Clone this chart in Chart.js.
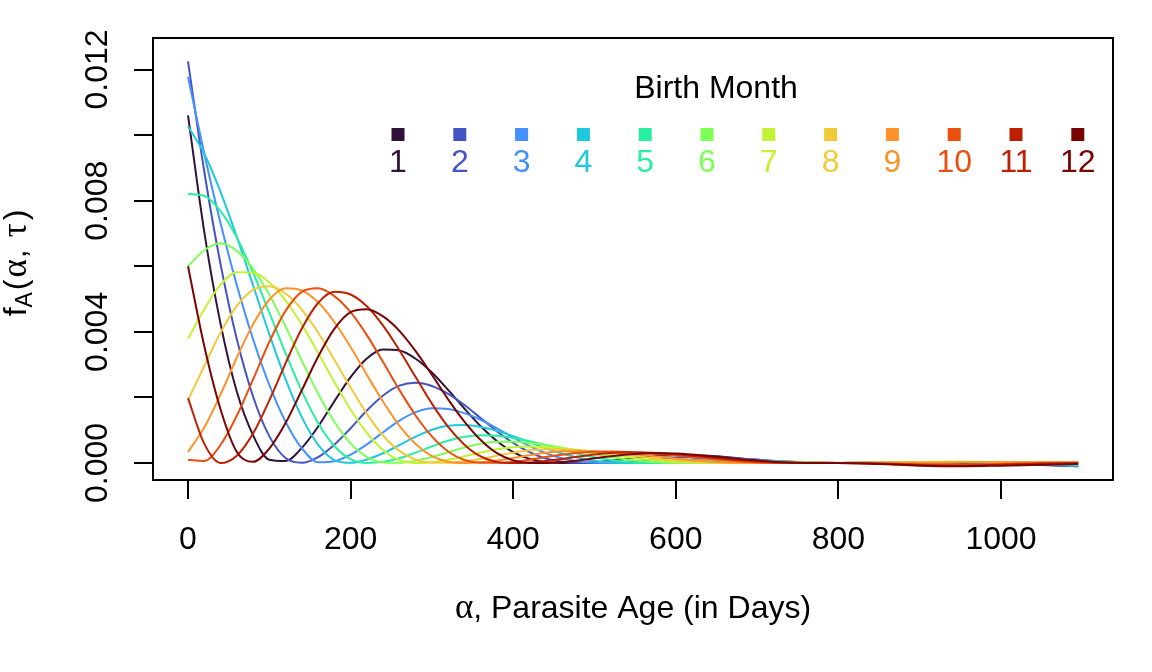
<!DOCTYPE html>
<html>
<head>
<meta charset="utf-8">
<title>Parasite age density by birth month</title>
<script src="https://cdn.jsdelivr.net/npm/chart.js@4.4.1/dist/chart.umd.min.js"></script>
<style>
  html, body { margin: 0; padding: 0; background: #fff; }
  #ageChart { display: block; }
</style>
</head>
<body>
<canvas id="ageChart" width="1152" height="672"></canvas>
<script>
var ageDays = [0, 20, 40, 60, 80, 100, 120, 140, 160, 180, 200, 220, 240, 260, 280, 300,
    320, 340, 360, 380, 400, 420, 440, 460, 480, 500, 520, 540, 560, 580, 600,
    640, 680, 720, 760, 800, 850, 900, 950, 1000, 1050, 1095];

// f_A(alpha, tau), one series per birth month
var month1 = [0.0106, 0.00705, 0.00425, 0.00218, 0.00085, 0.0001, 0.00006, 0.00046, 0.00111, 0.00188, 0.00262,
    0.00319, 0.00346, 0.00343, 0.00318, 0.00276, 0.00223, 0.00166, 0.00112, 0.00067, 0.00033, 0.000125, 0.000027,
    0, 0.000002, 0.000025, 0.00007, 0.000127, 0.000185, 0.000225, 0.00024, 0.00022, 0.00014, 0.00006, 0.00002, 0,
    0.00001, 0.00002, 0.00001, -0.00002, -0.00006, -0.0001];
var month2 = [0.01225, 0.00889, 0.00607, 0.00378, 0.00203, 0.00082, 0.00015, 0.000007, 0.00018, 0.00056, 0.00106,
    0.0016, 0.00206, 0.00236, 0.00245, 0.00235, 0.00211, 0.00177, 0.00137, 0.00097, 0.00061, 0.00033, 0.00014,
    0.00004, 0.000005, 0, 0.00001, 0.000038, 0.000078, 0.00012, 0.00016, 0.0002, 0.00013, 0.00005, 0.00001, 0,
    0.00001, 0.00003, 0.00002, -0.00001, -0.00005, -0.0001];
var month3 = [0.01178, 0.00944, 0.00732, 0.00543, 0.00378, 0.00238, 0.00126, 0.00045, 0.00002, 0.000053, 0.000256,
    0.00057, 0.00094, 0.00129, 0.00155, 0.00167, 0.00165, 0.00152, 0.00132, 0.00106, 0.00078, 0.00052, 0.0003,
    0.000145, 0.00005, 0.00001, 0, 0.000002, 0.000017, 0.000044, 0.000076, 0.000134, 0.00013, 0.00007, 0.00002, 0,
    0.00001, 0.00003, 0.00003, 0, -0.00004, -0.00009];
var month4 = [0.01027, 0.00943, 0.00827, 0.0069, 0.00542, 0.00393, 0.00256, 0.0014, 0.00056, 0.00009, 0.000007,
    0.000105, 0.000297, 0.000547, 0.000804, 0.001015, 0.00114, 0.001157, 0.0011, 0.00098, 0.00082, 0.00064, 0.00045,
    0.00029, 0.00016, 0.00007, 0.00002, 0.000002, 0, 0.000003, 0.00002, 0.00005, 0.00007, 0.00005, 0.00002, 0,
    0.00001, 0.00003, 0.00003, 0.00001, -0.00003, -0.00008];
var month5 = [0.0082, 0.00815, 0.00768, 0.00688, 0.00581, 0.00459, 0.00335, 0.00219, 0.00122, 0.00052, 0.00012,
    0, 0.000035, 0.000147, 0.000316, 0.000506, 0.00068, 0.000803, 0.00085, 0.00083, 0.000766, 0.000667, 0.000544,
    0.000413, 0.000285, 0.000175, 0.00009, 0.000034, 0.000008, 0, 0, 0.00002, 0.00004, 0.00004, 0.00002, 0,
    0.00001, 0.00003, 0.00003, 0.00002, -0.00001, -0.00005];
var month6 = [0.006, 0.00649, 0.0067, 0.00647, 0.00593, 0.00513, 0.00416, 0.00312, 0.00212, 0.00126, 0.0006,
    0.00019, 0.000016, 0.000007, 0.000069, 0.000184, 0.000329, 0.000472, 0.000585, 0.000645, 0.000645, 0.00061,
    0.000548, 0.000466, 0.000371, 0.000273, 0.000183, 0.000107, 0.000051, 0.000017, 0.000002, 0.00001, 0.00002,
    0.00002, 0.00001, 0, 0.00001, 0.00003, 0.00004, 0.00003, 0.00001, -0.00002];
var month7 = [0.00379, 0.00469, 0.00544, 0.00582, 0.00581, 0.00551, 0.00496, 0.00422, 0.00336, 0.00247, 0.00163,
    0.00092, 0.00039, 0.000087, 0, 0.000026, 0.0001, 0.000204, 0.000318, 0.000418, 0.000483, 0.0005, 0.000484,
    0.000448, 0.000394, 0.000328, 0.000256, 0.000184, 0.000119, 0.000066, 0.000029, 0, 0.00001, 0.00002, 0.00001, 0,
    0.00001, 0.00003, 0.00004, 0.00003, 0.00001, 0];
var month8 = [0.00192, 0.00296, 0.00397, 0.00479, 0.00528, 0.00539, 0.00517, 0.00468, 0.00398, 0.00315, 0.0023,
    0.0015, 0.00084, 0.00037, 0.0001, 0.000006, 0.000006, 0.000049, 0.000127, 0.000222, 0.000315, 0.000386, 0.000419,
    0.000415, 0.000392, 0.000353, 0.000302, 0.000244, 0.000183, 0.000125, 0.000076, 0.000013, 0, 0.00001, 0.00001, 0,
    0.00001, 0.00002, 0.00003, 0.00003, 0.00002, 0.00001];
var month9 = [0.00034, 0.00108, 0.00209, 0.00321, 0.00423, 0.00498, 0.00533, 0.00526, 0.0049, 0.0043, 0.00354,
    0.00269, 0.00187, 0.00114, 0.00058, 0.00021, 0.000036, 0, 0.00002, 0.000075, 0.000153, 0.000238, 0.000312,
    0.000359, 0.00037, 0.000357, 0.00033, 0.00029, 0.000241, 0.000188, 0.000135, 0.000049, 0.000005, 0, 0.00001, 0,
    0.00001, 0.00001, 0.00002, 0.00002, 0.00002, 0.00002];
var month10 = [0.0001, 0.000063, 0.00055, 0.00144, 0.00255, 0.00369, 0.00464, 0.00522, 0.00533, 0.00509, 0.0046,
    0.0039, 0.00308, 0.00223, 0.00145, 0.00081, 0.00035, 0.00009, 0.000005, 0.000005, 0.00004, 0.0001, 0.00018,
    0.00025, 0.00031, 0.000345, 0.000348, 0.000335, 0.00031, 0.00027, 0.00023, 0.00013, 0.000048, 0.000003, 0, 0,
    -0.00001, -0.00004, -0.00005, -0.00003, 0, 0.00001];
var month11 = [0.00198, 0.00059, 0, 0.000225, 0.0009, 0.00191, 0.00304, 0.0041, 0.00488, 0.00522, 0.00514,
    0.00478, 0.00419, 0.00344, 0.00262, 0.00181, 0.0011, 0.00056, 0.0002, 0.000034, 0, 0.000016, 0.00006,
    0.000124, 0.000196, 0.000262, 0.000309, 0.00033, 0.000324, 0.000304, 0.00027, 0.000178, 0.000084, 0.00002, 0, 0,
    -0.00002, -0.00006, -0.00008, -0.00005, -0.00002, 0];
var month12 = [0.006, 0.00357, 0.00164, 0.00034, 0.000037, 0.00044, 0.00122, 0.00222, 0.00324, 0.00409, 0.0046,
    0.00469, 0.00447, 0.00403, 0.00341, 0.00269, 0.00194, 0.00126, 0.0007, 0.0003, 0.00008, 0.000004, 0.000004,
    0.000032, 0.00008, 0.000142, 0.000205, 0.000258, 0.000291, 0.0003, 0.000291, 0.000215, 0.000118, 0.00004,
    0.000004, 0, -0.00003, -0.00008, -0.0001, -0.00008, -0.00005, -0.00003];

var monthSeries = [month1, month2, month3, month4, month5, month6, month7, month8, month9, month10, month11, month12];
var monthLabels = ['1', '2', '3', '4', '5', '6', '7', '8', '9', '10', '11', '12'];
var monthColors = ['#30123B', '#4454C4', '#4490FE', '#1FC8DE', '#29EFA2', '#7DFF56',
    '#C1F334', '#F1CA3A', '#FE922A', '#EA4F0D', '#BE2102', '#7A0403'];

var xTicks = [0, 200, 400, 600, 800, 1000];
var yTicks = [0, 0.002, 0.004, 0.006, 0.008, 0.010, 0.012];
var yLabelValues = [0, 0.004, 0.008, 0.012];
var yLabelText = ['0.000', '0.004', '0.008', '0.012'];

var SANS = "'Liberation Sans', Arial, Helvetica, sans-serif";
var SERIF = "'Liberation Serif', 'DejaVu Serif', serif";

// draws a run of text pieces (mixed fonts) centred on x, baseline y
function drawPieces(ctx, pieces, x, y) {
    var total = 0;
    pieces.forEach(function (p) {
        ctx.font = p.font;
        p.w = ctx.measureText(p.text).width + (p.gap || 0);
        total += p.w;
    });
    var cx = x - total / 2;
    ctx.textAlign = 'left';
    ctx.textBaseline = 'alphabetic';
    pieces.forEach(function (p) {
        ctx.font = p.font;
        ctx.fillText(p.text, cx, y + (p.dy || 0));
        cx += p.w;
    });
}

var baseGraphics = {
    id: 'baseGraphics',
    afterDraw: function (chart) {
        var ctx = chart.ctx;
        var area = chart.chartArea;
        var xs = chart.scales.x;
        var ys = chart.scales.y;
        ctx.save();
        ctx.fillStyle = '#000';
        ctx.strokeStyle = '#000';

        // plot box
        ctx.lineWidth = 2;
        ctx.strokeRect(area.left, area.top, area.right - area.left, area.bottom - area.top);

        // x tick labels
        ctx.font = '32px ' + SANS;
        ctx.textAlign = 'center';
        ctx.textBaseline = 'alphabetic';
        xTicks.forEach(function (v) {
            ctx.fillText(String(v), xs.getPixelForValue(v), 549);
        });

        // y tick labels, rotated like R's las = 0
        yLabelValues.forEach(function (v, i) {
            ctx.save();
            ctx.translate(107, ys.getPixelForValue(v));
            ctx.rotate(-Math.PI / 2);
            ctx.font = '32px ' + SANS;
            ctx.textAlign = 'center';
            ctx.textBaseline = 'alphabetic';
            ctx.fillText(yLabelText[i], 0, 0);
            ctx.restore();
        });

        // x axis title
        drawPieces(ctx, [
            { text: '\u03b1', font: '35px ' + SERIF },
            { text: ', Parasite Age (in Days)', font: '32px ' + SANS }
        ], (area.left + area.right) / 2, 618);

        // y axis title f_A(alpha, tau)
        ctx.save();
        ctx.translate(26, (area.top + area.bottom) / 2 + 4);
        ctx.rotate(-Math.PI / 2);
        drawPieces(ctx, [
            { text: 'f', font: '32px ' + SANS },
            { text: 'A', font: '23px ' + SANS, dy: 6, gap: 2 },
            { text: '(', font: '32px ' + SANS, gap: 2 },
            { text: '\u03b1', font: '35px ' + SERIF, gap: 1 },
            { text: ', ', font: '32px ' + SANS, gap: 3 },
            { text: '\u03c4', font: '35px ' + SERIF, gap: 3 },
            { text: ')', font: '32px ' + SANS }
        ], 0, 0);
        ctx.restore();

        // legend: title, squares with labels underneath
        ctx.font = '32px ' + SANS;
        ctx.textAlign = 'center';
        ctx.fillStyle = '#000';
        ctx.fillText('Birth Month', 716, 98);
        for (var i = 0; i < monthLabels.length; i++) {
            var lx = 398 + i * 61.8;
            ctx.fillStyle = monthColors[i];
            ctx.fillRect(lx - 6.5, 128, 13, 13);
            ctx.fillText(monthLabels[i], lx, 172);
        }
        ctx.restore();
    }
};

document.addEventListener('DOMContentLoaded', function () {
    var ctx = document.getElementById('ageChart').getContext('2d');

    var datasets = monthSeries.map(function (vals, i) {
        return {
            label: monthLabels[i],
            data: vals.map(function (v, j) { return { x: ageDays[j], y: v }; }),
            borderColor: monthColors[i],
            borderWidth: 2,
            pointRadius: 0,
            fill: false,
            cubicInterpolationMode: 'monotone',
            order: monthSeries.length - i // later months drawn on top
        };
    });

    new Chart(ctx, {
        type: 'line',
        data: { datasets: datasets },
        options: {
            responsive: false,
            animation: false,
            parsing: false,
            layout: { padding: { left: 0, right: 39, top: 38, bottom: 0 } },
            plugins: {
                legend: { display: false },
                tooltip: { enabled: false }
            },
            scales: {
                x: {
                    type: 'linear',
                    min: -43.05,
                    max: 1137.8,
                    border: { display: false },
                    grid: { drawOnChartArea: false, drawTicks: true, tickLength: 19, color: '#000', lineWidth: 2 },
                    ticks: { display: false },
                    afterBuildTicks: function (axis) {
                        axis.ticks = xTicks.map(function (v) { return { value: v }; });
                    },
                    afterFit: function (axis) { axis.height = 192; }
                },
                y: {
                    type: 'linear',
                    min: -0.000518,
                    max: 0.012961,
                    border: { display: false },
                    grid: { drawOnChartArea: false, drawTicks: true, tickLength: 19, color: '#000', lineWidth: 2 },
                    ticks: { display: false },
                    afterBuildTicks: function (axis) {
                        axis.ticks = yTicks.map(function (v) { return { value: v }; });
                    },
                    afterFit: function (axis) { axis.height; axis.width = 153; }
                }
            }
        },
        plugins: [baseGraphics]
    });
});
</script>
</body>
</html>
